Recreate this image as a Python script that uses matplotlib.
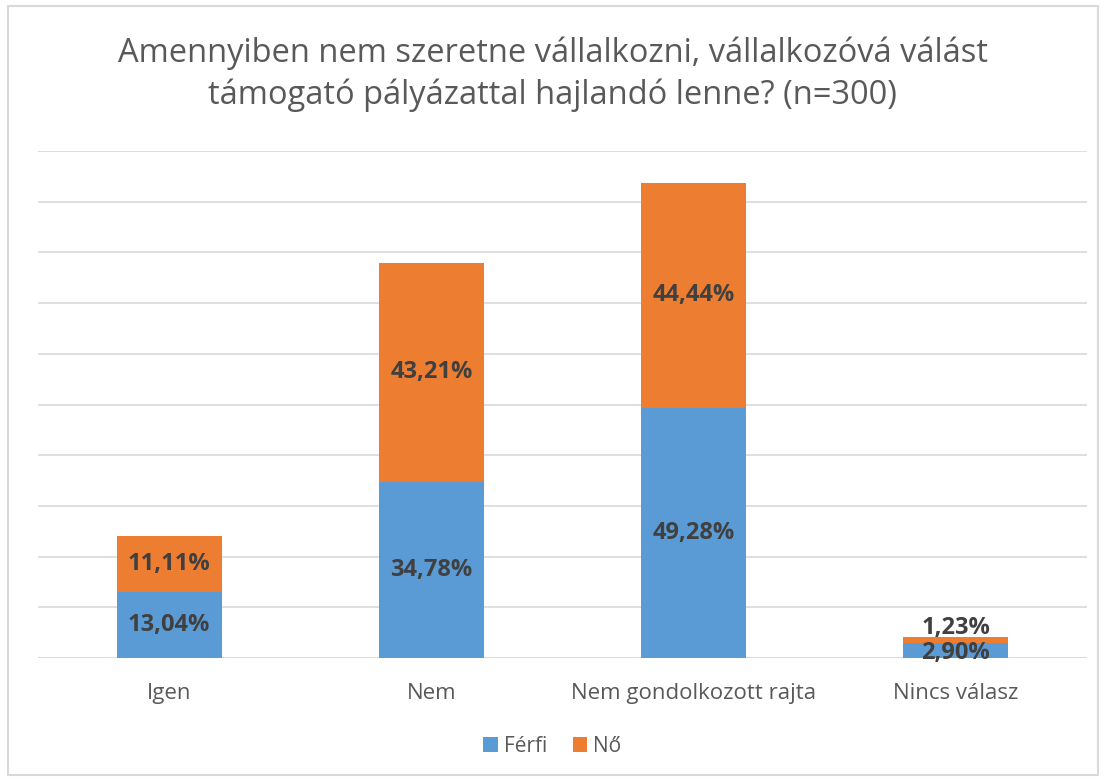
import numpy as np
import matplotlib.pyplot as plt
from matplotlib.patches import Rectangle

plt.rcParams['font.family'] = ['Open Sans', 'DejaVu Sans']

categories = ['Igen', 'Nem', 'Nem gondolkozott rajta', 'Nincs válasz']
ferfi = [13.04, 34.78, 49.28, 2.90]
no = [11.11, 43.21, 44.44, 1.23]
series_names = ['Férfi', 'Nő']

blue = '#5B9BD5'
orange = '#ED7D31'
txt = '#404040'

fig = plt.figure(figsize=(11.05, 7.8), dpi=100)
fig.patches.append(Rectangle((8/1105, 5/780), 1090/1105, 769/780, transform=fig.transFigure,
                             fill=False, edgecolor='#D9D9D9', linewidth=1.5))
ax = fig.add_axes([38/1105, 122/780, 1049/1105, 507/780])

x = np.arange(len(categories))
w = 0.4
b1 = ax.bar(x, ferfi, w, color=blue, label=series_names[0], zorder=3)
b2 = ax.bar(x, no, w, bottom=ferfi, color=orange, label=series_names[1], zorder=3)

def fmt(v):
    return f'{v:.2f}%'.replace('.', ',')

for i in range(len(categories)):
    dy1, dy2 = 0, 0
    if ferfi[i] + no[i] < 8:
        # tiny stack: push the labels apart like the original does
        dy1, dy2 = -1.5, 8.5
    ax.annotate(fmt(ferfi[i]), (x[i], ferfi[i] / 2), xytext=(0, dy1), textcoords='offset points',
                ha='center', va='center', fontsize=17, fontweight='bold', color=txt, zorder=4)
    ax.annotate(fmt(no[i]), (x[i], ferfi[i] + no[i] / 2), xytext=(0, dy2), textcoords='offset points',
                ha='center', va='center', fontsize=17, fontweight='bold', color=txt, zorder=4)

ax.set_xlim(-0.5, 3.5)
ax.set_ylim(0, 100)
ax.set_yticks(np.arange(0, 101, 10))
ax.set_yticklabels([])
ax.tick_params(axis='y', length=0)
ax.tick_params(axis='x', length=0, pad=18, labelsize=16, labelcolor='#595959')
ax.set_xticks(x)
ax.set_xticklabels(categories)
ax.grid(axis='y', color='#D9D9D9', linewidth=1.2, zorder=0)
for s in ax.spines.values():
    s.set_visible(False)
ax.axhline(0, color='#D9D9D9', linewidth=1.2, zorder=2)

fig.text(0.5, 1 - 74/780, 'Amennyiben nem szeretne vállalkozni, vállalkozóvá válást\ntámogató pályázattal hajlandó lenne? (n=300)',
         ha='center', va='center', fontsize=23.5, color='#595959', linespacing=1.35)

fig.legend(handles=[b1, b2], labels=series_names, loc='center', bbox_to_anchor=(0.5, 1 - 746/780),
           ncol=2, frameon=False, fontsize=15, labelcolor='#595959', handlelength=0.7, handleheight=0.7,
           columnspacing=1.2, handletextpad=0.3)

plt.savefig('out.png', dpi=100)
